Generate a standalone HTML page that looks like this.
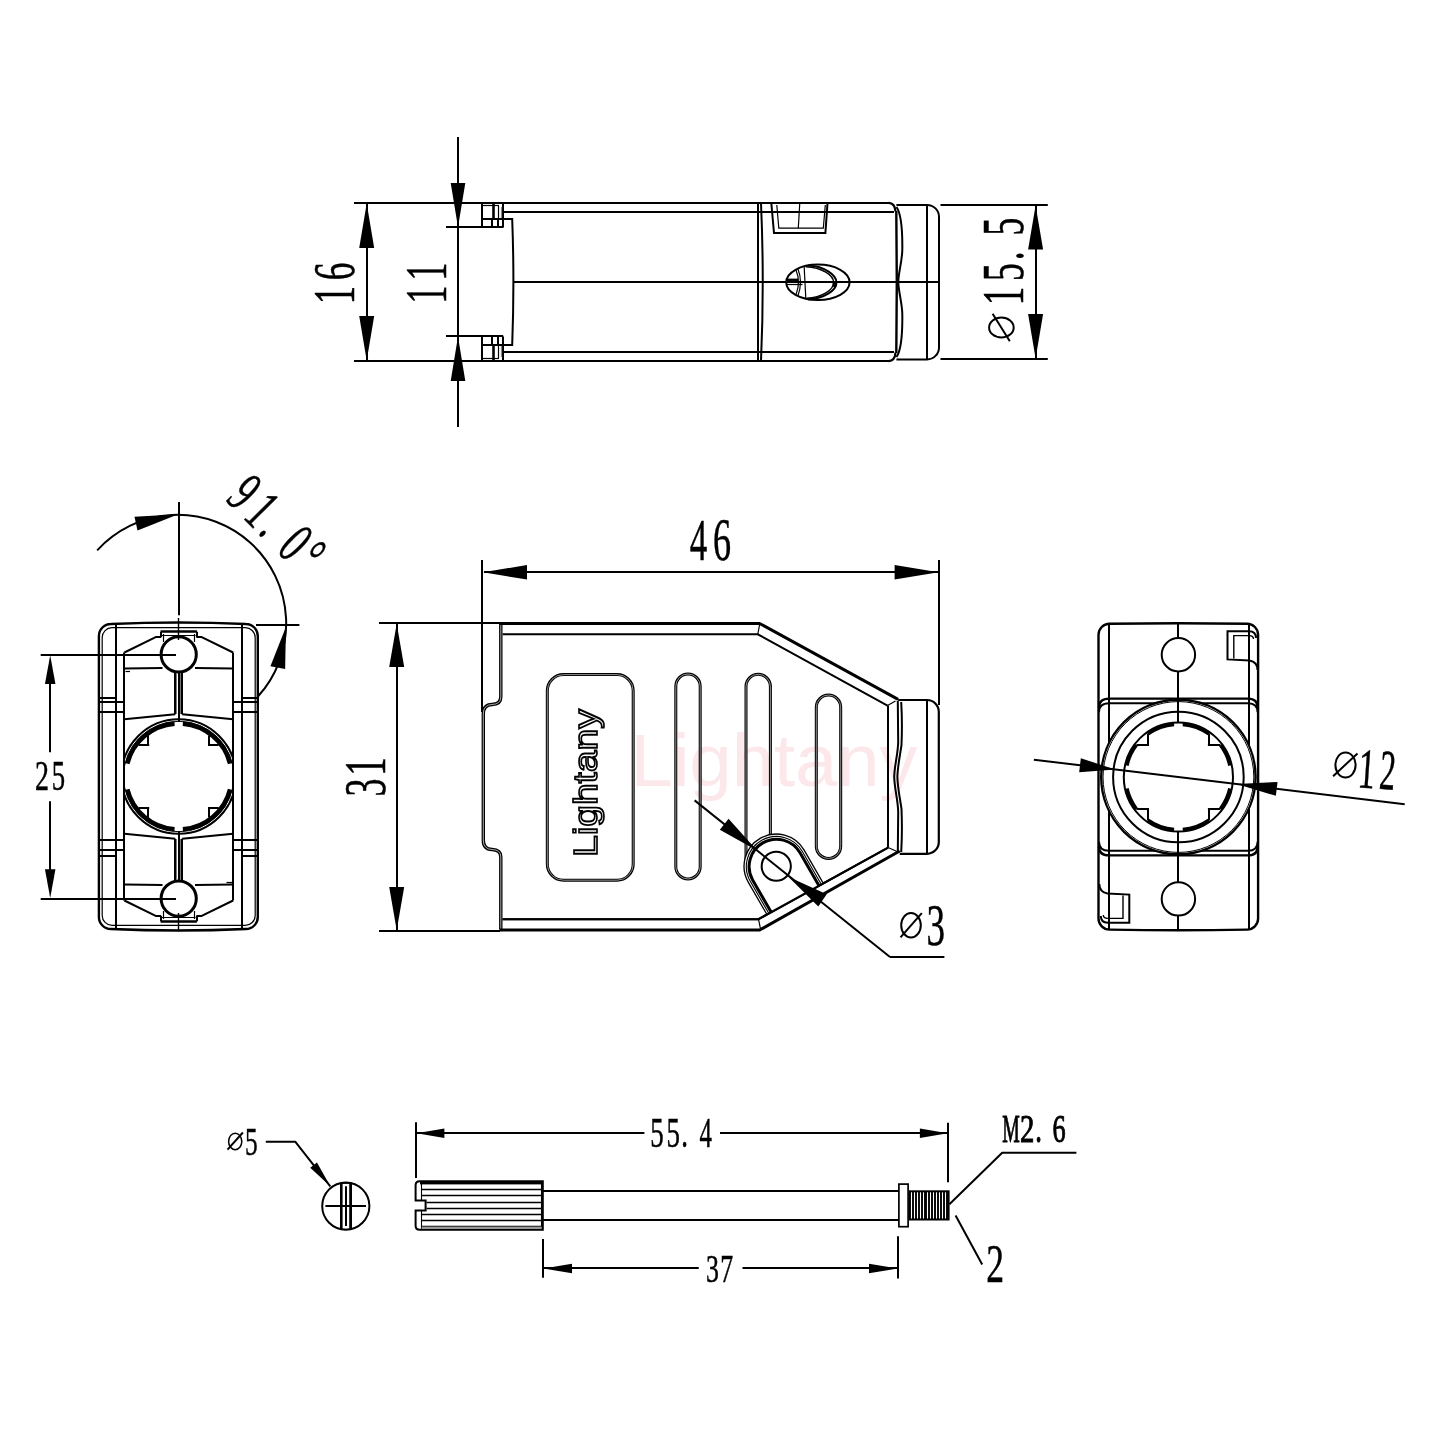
<!DOCTYPE html>
<html><head><meta charset="utf-8"><style>
html,body{margin:0;padding:0;background:#fff;}
svg{display:block;will-change:transform;}
.t{font-family:"Liberation Serif",serif;fill:#000;stroke:#000;stroke-width:0.5px;}
.tb{stroke-width:1.0px;}
.s{font-family:"Liberation Sans",sans-serif;}
</style></head><body>
<svg width="1440" height="1440" viewBox="0 0 1440 1440">
<rect width="1440" height="1440" fill="#fff"/>
<line x1="354" y1="203" x2="889.3" y2="203" stroke="#000" stroke-width="2"/>
<line x1="354" y1="361" x2="889.3" y2="361" stroke="#000" stroke-width="2"/>
<line x1="503.2" y1="212" x2="894" y2="212" stroke="#000" stroke-width="2.0"/>
<line x1="503.2" y1="352" x2="894" y2="352" stroke="#000" stroke-width="2.0"/>
<line x1="367" y1="204" x2="367" y2="360" stroke="#000" stroke-width="2.0"/>
<polygon points="366.7,203.5 374.2,248 359.2,248" fill="#000"/>
<polygon points="366.7,360.5 359.2,316 374.2,316" fill="#000"/>
<line x1="458" y1="137" x2="458" y2="427" stroke="#000" stroke-width="2.0"/>
<polygon points="458,227.2 450.7,183 465.3,183" fill="#000"/>
<polygon points="458,336.5 465.3,381 450.7,381" fill="#000"/>
<line x1="446" y1="227" x2="503.2" y2="227" stroke="#000" stroke-width="2.0"/>
<line x1="446" y1="336" x2="503.2" y2="336" stroke="#000" stroke-width="2.0"/>
<line x1="482" y1="202.5" x2="482" y2="227.5" stroke="#000" stroke-width="2"/>
<line x1="503" y1="202.5" x2="503" y2="227.5" stroke="#000" stroke-width="2"/>
<line x1="483" y1="205.5" x2="499" y2="205.5" stroke="#000" stroke-width="1.2"/>
<line x1="482" y1="219" x2="503" y2="219" stroke="#000" stroke-width="2"/>
<line x1="493.5" y1="203" x2="493.5" y2="219" stroke="#000" stroke-width="2.6"/>
<line x1="498.5" y1="206" x2="498.5" y2="219" stroke="#000" stroke-width="1.2"/>
<line x1="501.5" y1="207" x2="501.5" y2="218" stroke="#888" stroke-width="1.2"/>
<line x1="492" y1="219" x2="492" y2="227" stroke="#000" stroke-width="2.0"/>
<line x1="498" y1="219" x2="498" y2="227" stroke="#000" stroke-width="2.0"/>
<line x1="482" y1="361.5" x2="482" y2="336.5" stroke="#000" stroke-width="2"/>
<line x1="503" y1="361.5" x2="503" y2="336.5" stroke="#000" stroke-width="2"/>
<line x1="483" y1="358.5" x2="499" y2="358.5" stroke="#000" stroke-width="1.2"/>
<line x1="482" y1="345" x2="503" y2="345" stroke="#000" stroke-width="2"/>
<line x1="493.5" y1="361" x2="493.5" y2="345" stroke="#000" stroke-width="2.6"/>
<line x1="498.5" y1="358" x2="498.5" y2="345" stroke="#000" stroke-width="1.2"/>
<line x1="501.5" y1="357" x2="501.5" y2="346" stroke="#888" stroke-width="1.2"/>
<line x1="492" y1="345" x2="492" y2="337" stroke="#000" stroke-width="2.0"/>
<line x1="498" y1="345" x2="498" y2="337" stroke="#000" stroke-width="2.0"/>
<path d="M503,219 L512.2,219 Q514.6,282 512.2,345 L503,345" fill="none" stroke="#000" stroke-width="2.0" />
<line x1="513.6" y1="282" x2="938" y2="282" stroke="#000" stroke-width="2.0"/>
<line x1="758" y1="202.8" x2="758" y2="361.1" stroke="#000" stroke-width="2.0"/>
<path d="M761,203 Q764.5,282 761,361" fill="none" stroke="#000" stroke-width="2.0" />
<path d="M771.3,203 L774,233 L825.4,233 L827.5,203" fill="none" stroke="#000" stroke-width="2.0" />
<path d="M776.8,205 L778.8,228.2 L823.3,228.2 L825.3,205" fill="none" stroke="#000" stroke-width="1.2" />
<line x1="799.7" y1="204" x2="798.3" y2="228.2" stroke="#000" stroke-width="1.2"/>
<ellipse cx="817.9" cy="282.3" rx="31.7" ry="17.7" fill="none" stroke="#000" stroke-width="2"/>
<path d="M804.2,267.1 L805.8,298.3" fill="none" stroke="#000" stroke-width="1.2" />
<path d="M805.8,266.7 C822,267.5 833.5,275 833.75,282.5 C833.5,290 822,297.5 806.7,298.3" fill="none" stroke="#000" stroke-width="1.4" />
<path d="M808,265.6 C825,266.5 836.5,275 836.5,282.5 C836.5,290 825,298.5 808,299.4" fill="none" stroke="#000" stroke-width="2.0" />
<rect x="832.5" y="282.5" width="4" height="4.5" rx="1.5" fill="#000" stroke="#000" stroke-width="0"/>
<path d="M796,270 Q801,282 796,294.5" fill="none" stroke="#000" stroke-width="1.2" />
<path d="M798,269 Q803,282 798,295.5" fill="none" stroke="#000" stroke-width="1.2" />
<rect x="786.7" y="278.6" width="11.5" height="4.4" rx="0" fill="#000" stroke="#000" stroke-width="0"/>
<line x1="786.7" y1="284.5" x2="802.5" y2="284.5" stroke="#000" stroke-width="1.2"/>
<path d="M888.5,202.8 Q895,203 895.5,211.5" fill="none" stroke="#000" stroke-width="2.2" />
<path d="M888.5,361.1 Q895,361 895.5,352.5" fill="none" stroke="#000" stroke-width="2.2" />
<path d="M896.3,211 L896.8,282 L896.3,353" fill="none" stroke="#000" stroke-width="2.4" />
<path d="M896.5,207 C902,215 902.5,235 902.3,250 C902,262 898.5,272 898.3,282 C898.5,292 902,302 902.3,314 C902.5,329 902,349 896.5,357" fill="none" stroke="#000" stroke-width="2.0" />
<path d="M896.4,204.9 L927,204.9 A12,12 0 0 1 939,216.9 L939,347.4 A12,12 0 0 1 927,359.4 L896.4,359.4" fill="none" stroke="#000" stroke-width="2" />
<line x1="927" y1="205" x2="927" y2="359" stroke="#000" stroke-width="2.0"/>
<line x1="940.5" y1="205" x2="1047.8" y2="205" stroke="#000" stroke-width="2.0"/>
<line x1="940.5" y1="359" x2="1047.8" y2="359" stroke="#000" stroke-width="2.0"/>
<line x1="1036" y1="206" x2="1036" y2="358" stroke="#000" stroke-width="2.0"/>
<polygon points="1035.6,205.5 1043.1,249.4 1028.1,249.4" fill="#000"/>
<polygon points="1035.6,358.4 1028.1,314 1043.1,314" fill="#000"/>
<g transform="translate(354.2,301) rotate(-90)">
<text class="t" transform="translate(-3.23,0) scale(0.62,1)" font-size="59.2">1</text>
<text class="t" transform="translate(20.87,0) scale(0.6,1)" font-size="59.2">6</text>
</g>
<g transform="translate(446.1,300.5) rotate(-90)">
<text class="t" transform="translate(-3.22,0) scale(0.62,1)" font-size="59">1</text>
<text class="t" transform="translate(19.68,0) scale(0.62,1)" font-size="59">1</text>
</g>
<g transform="translate(1023.3,301.9) rotate(-90)">
<text class="t" transform="translate(-3.24,0) scale(0.62,1)" font-size="59.5">1</text>
<text class="t" transform="translate(20.83,0) scale(0.6,1)" font-size="59.5">5</text>
<text class="t" transform="translate(41.55,0) scale(0.6,1)" font-size="59.5">.</text>
<text class="t" transform="translate(66.33,0) scale(0.6,1)" font-size="59.5">5</text>
</g>
<ellipse cx="1001.4" cy="327.5" rx="12.3" ry="10" fill="none" stroke="#000" stroke-width="2"/>
<line x1="992.6" y1="313.7" x2="1009.8" y2="341.2" stroke="#000" stroke-width="2"/>
<path d="M110.9,624 Q178.7,621 245.8,624 A12,12 0 0 1 257.8,636 L257.8,917 A12,12 0 0 1 245.8,929 Q178.7,932 110.9,929 A12,12 0 0 1 98.9,917 L98.9,636 A12,12 0 0 1 110.9,624 Z" fill="none" stroke="#000" stroke-width="2.4" />
<path d="M112,627.6 L245,627.6 A10,10 0 0 1 255.2,637.6 L255.2,915.4 A10,10 0 0 1 245,925.4 L112,925.4 A10,10 0 0 1 102.2,915.4 L102.2,637.6 A10,10 0 0 1 112,627.6" fill="none" stroke="#000" stroke-width="1.2" />
<line x1="116" y1="623.5" x2="116" y2="929.5" stroke="#000" stroke-width="2.0"/>
<line x1="242" y1="623.5" x2="242" y2="929.5" stroke="#000" stroke-width="2.0"/>
<line x1="124" y1="652.5" x2="124" y2="900.5" stroke="#000" stroke-width="2.0"/>
<line x1="233" y1="652.5" x2="233" y2="900.5" stroke="#000" stroke-width="2.0"/>
<polyline points="124.4,652.5 156.2,636.9 161,636.9" fill="none" stroke="#000" stroke-width="2.0" stroke-linejoin="round"/>
<polyline points="196.4,636.9 201.2,636.9 233.1,652.5" fill="none" stroke="#000" stroke-width="2.0" stroke-linejoin="round"/>
<line x1="160.6" y1="631.5" x2="196.9" y2="631.5" stroke="#000" stroke-width="2.6"/>
<line x1="161" y1="631.8" x2="161" y2="637.2" stroke="#000" stroke-width="2.0"/>
<line x1="197" y1="631.8" x2="197" y2="637.2" stroke="#000" stroke-width="2.0"/>
<line x1="162" y1="635.5" x2="195.5" y2="635.5" stroke="#000" stroke-width="1.2"/>
<line x1="163.5" y1="634" x2="163.5" y2="642" stroke="#000" stroke-width="1.2"/>
<line x1="194.5" y1="634" x2="194.5" y2="642" stroke="#000" stroke-width="1.2"/>
<circle cx="178.7" cy="654.4" r="17.6" fill="none" stroke="#000" stroke-width="3"/>
<line x1="124.4" y1="668.6" x2="162.5" y2="668.1" stroke="#000" stroke-width="2.0"/>
<line x1="195" y1="668.1" x2="233.1" y2="668.6" stroke="#000" stroke-width="2.0"/>
<line x1="125.5" y1="671.5" x2="130" y2="671.5" stroke="#000" stroke-width="1.2"/>
<line x1="175" y1="672.5" x2="175" y2="714.2" stroke="#000" stroke-width="2.0"/>
<line x1="182" y1="672.5" x2="182" y2="714.2" stroke="#000" stroke-width="2.0"/>
<line x1="176.5" y1="673" x2="176.5" y2="714" stroke="#777" stroke-width="1"/>
<line x1="180.5" y1="673" x2="180.5" y2="714" stroke="#777" stroke-width="1"/>
<line x1="179" y1="672" x2="179" y2="722" stroke="#000" stroke-width="2.0"/>
<line x1="124.4" y1="719.2" x2="175.2" y2="714.2" stroke="#000" stroke-width="2.0"/>
<line x1="182.2" y1="714.2" x2="233.1" y2="719.2" stroke="#000" stroke-width="2.0"/>
<line x1="99.7" y1="698" x2="115.5" y2="698" stroke="#000" stroke-width="2.0"/>
<line x1="99.7" y1="702" x2="124.4" y2="702" stroke="#000" stroke-width="2.0"/>
<line x1="99.7" y1="712" x2="124.4" y2="712" stroke="#000" stroke-width="2.0"/>
<line x1="242" y1="698" x2="257.3" y2="698" stroke="#000" stroke-width="2.0"/>
<line x1="233.1" y1="702" x2="257.3" y2="702" stroke="#000" stroke-width="2.0"/>
<line x1="233.1" y1="712" x2="257.3" y2="712" stroke="#000" stroke-width="2.0"/>
<polyline points="124.4,900.5 156.2,916.1 161,916.1" fill="none" stroke="#000" stroke-width="2.0" stroke-linejoin="round"/>
<polyline points="196.4,916.1 201.2,916.1 233.1,900.5" fill="none" stroke="#000" stroke-width="2.0" stroke-linejoin="round"/>
<line x1="160.6" y1="921.5" x2="196.9" y2="921.5" stroke="#000" stroke-width="2.6"/>
<line x1="161" y1="921.2" x2="161" y2="915.8" stroke="#000" stroke-width="2.0"/>
<line x1="197" y1="921.2" x2="197" y2="915.8" stroke="#000" stroke-width="2.0"/>
<line x1="162" y1="917.5" x2="195.5" y2="917.5" stroke="#000" stroke-width="1.2"/>
<line x1="163.5" y1="919" x2="163.5" y2="911" stroke="#000" stroke-width="1.2"/>
<line x1="194.5" y1="919" x2="194.5" y2="911" stroke="#000" stroke-width="1.2"/>
<circle cx="178.7" cy="898.6" r="17.6" fill="none" stroke="#000" stroke-width="3"/>
<line x1="124.4" y1="884.4" x2="162.5" y2="884.9" stroke="#000" stroke-width="2.0"/>
<line x1="195" y1="884.9" x2="233.1" y2="884.4" stroke="#000" stroke-width="2.0"/>
<line x1="226.5" y1="882.5" x2="232" y2="882.5" stroke="#000" stroke-width="1.2"/>
<line x1="175" y1="880.5" x2="175" y2="838.8" stroke="#000" stroke-width="2.0"/>
<line x1="182" y1="880.5" x2="182" y2="838.8" stroke="#000" stroke-width="2.0"/>
<line x1="176.5" y1="880" x2="176.5" y2="839" stroke="#777" stroke-width="1"/>
<line x1="180.5" y1="880" x2="180.5" y2="839" stroke="#777" stroke-width="1"/>
<line x1="179" y1="881" x2="179" y2="831" stroke="#000" stroke-width="2.0"/>
<line x1="124.4" y1="833.8" x2="175.2" y2="838.8" stroke="#000" stroke-width="2.0"/>
<line x1="182.2" y1="838.8" x2="233.1" y2="833.8" stroke="#000" stroke-width="2.0"/>
<line x1="99.7" y1="856" x2="115.5" y2="856" stroke="#000" stroke-width="2.0"/>
<line x1="99.7" y1="850" x2="124.4" y2="850" stroke="#000" stroke-width="2.0"/>
<line x1="99.7" y1="840" x2="124.4" y2="840" stroke="#000" stroke-width="2.0"/>
<line x1="242" y1="856" x2="257.3" y2="856" stroke="#000" stroke-width="2.0"/>
<line x1="233.1" y1="850" x2="257.3" y2="850" stroke="#000" stroke-width="2.0"/>
<line x1="233.1" y1="840" x2="257.3" y2="840" stroke="#000" stroke-width="2.0"/>
<clipPath id="cl1"><rect x="124.4" y="700" width="108.7" height="160"/></clipPath>
<g clip-path="url(#cl1)">
<circle cx="178.7" cy="776.5" r="57.2" fill="none" stroke="#000" stroke-width="2"/>
<circle cx="178.7" cy="776.5" r="55.2" fill="none" stroke="#000" stroke-width="1"/>
</g>
<path d="M230.13,763.68 A53,53 0 0 0 182.86,723.66" fill="none" stroke="#000" stroke-width="4.6" />
<path d="M174.54,723.66 A53,53 0 0 0 127.27,763.68" fill="none" stroke="#000" stroke-width="4.6" />
<path d="M127.27,789.32 A53,53 0 0 0 174.54,829.34" fill="none" stroke="#000" stroke-width="4.6" />
<path d="M182.86,829.34 A53,53 0 0 0 230.13,789.32" fill="none" stroke="#000" stroke-width="4.6" />
<line x1="209" y1="807.1" x2="209" y2="817.6" stroke="#000" stroke-width="2.0"/>
<line x1="208.2" y1="808" x2="218.7" y2="808" stroke="#000" stroke-width="2.0"/>
<line x1="209" y1="745.9" x2="209" y2="735.4" stroke="#000" stroke-width="2.0"/>
<line x1="208.2" y1="745" x2="218.7" y2="745" stroke="#000" stroke-width="2.0"/>
<line x1="148" y1="807.1" x2="148" y2="817.6" stroke="#000" stroke-width="2.0"/>
<line x1="149.2" y1="808" x2="138.7" y2="808" stroke="#000" stroke-width="2.0"/>
<line x1="148" y1="745.9" x2="148" y2="735.4" stroke="#000" stroke-width="2.0"/>
<line x1="149.2" y1="745" x2="138.7" y2="745" stroke="#000" stroke-width="2.0"/>
<line x1="179" y1="501.9" x2="179" y2="615.3" stroke="#000" stroke-width="2.0"/>
<line x1="178.5" y1="618" x2="178.5" y2="640" stroke="#000" stroke-width="1.4"/>
<line x1="178.5" y1="913" x2="178.5" y2="931" stroke="#000" stroke-width="1.4"/>
<line x1="179" y1="831" x2="179" y2="881" stroke="#000" stroke-width="2.0"/>
<line x1="40.7" y1="655" x2="176" y2="655" stroke="#000" stroke-width="2.0"/>
<line x1="40.7" y1="899" x2="176" y2="899" stroke="#000" stroke-width="2.0"/>
<line x1="50" y1="680" x2="50" y2="752.2" stroke="#000" stroke-width="2.0"/>
<line x1="50" y1="801.2" x2="50" y2="873" stroke="#000" stroke-width="2.0"/>
<polygon points="50.2,655.3 55.45,684 44.95,684" fill="#000"/>
<polygon points="50.2,897.9 44.95,869.2 55.45,869.2" fill="#000"/>
<g transform="translate(0,790.2)">
<text class="t" transform="translate(35.07,0) scale(0.66,1)" font-size="42.4">2</text>
<text class="t" transform="translate(51.75,0) scale(0.63,1)" font-size="42.4">5</text>
</g>
<path d="M97.2,550.3 A108.5,108.5 0 0 1 257.9,696.5" fill="none" stroke="#000" stroke-width="2.0" />
<polygon points="178.4,514.2 137.52,530.43 134.48,516.77" fill="#000"/>
<polygon points="285.9,627 285.16,669.07 270.44,666.13" fill="#000"/>
<line x1="256" y1="625" x2="299.4" y2="625" stroke="#000" stroke-width="2.0"/>
<text x="630.5" y="785.7" font-family="Liberation Sans, sans-serif" font-size="73.7" fill="#fce8ea" textLength="287" lengthAdjust="spacingAndGlyphs">Lightany</text>
<line x1="482" y1="560" x2="482" y2="712" stroke="#000" stroke-width="2.0"/>
<line x1="939" y1="560" x2="939" y2="705" stroke="#000" stroke-width="2.0"/>
<line x1="484" y1="572" x2="938" y2="572" stroke="#000" stroke-width="2.0"/>
<polygon points="483,572.3 527,565 527,579.6" fill="#000"/>
<polygon points="938.6,572.3 894.6,579.6 894.6,565" fill="#000"/>
<g transform="translate(0,560.4)">
<text class="t" transform="translate(689.72,0) scale(0.58,1)" font-size="60.2">4</text>
<text class="t" transform="translate(713.05,0) scale(0.6,1)" font-size="60.2">6</text>
</g>
<line x1="379" y1="623" x2="500" y2="623" stroke="#000" stroke-width="2.0"/>
<line x1="379" y1="931" x2="500" y2="931" stroke="#000" stroke-width="2.0"/>
<line x1="397" y1="624" x2="397" y2="930" stroke="#000" stroke-width="2.0"/>
<polygon points="396.7,623.8 404.2,667 389.2,667" fill="#000"/>
<polygon points="396.7,930.3 389.2,887 404.2,887" fill="#000"/>
<g transform="translate(384.7,794.7) rotate(-90)">
<text class="t" transform="translate(-1.72,0) scale(0.6,1)" font-size="60">3</text>
<text class="t" transform="translate(19.03,0) scale(0.62,1)" font-size="60">1</text>
</g>
<path d="M500.8,624 L500.8,697 Q500.8,704.3 492,704.5 Q483.3,704.7 483.3,714 L483.3,840 Q483.3,849.3 492,849.5 Q500.8,849.7 500.8,857 L500.8,929.5" fill="none" stroke="#000" stroke-width="3.4" stroke-linejoin="round"/>
<path d="M500.8,624 L500.8,697 Q500.8,704.3 492,704.5 Q483.3,704.7 483.3,714 L483.3,840 Q483.3,849.3 492,849.5 Q500.8,849.7 500.8,857 L500.8,929.5" fill="none" stroke="#aaa" stroke-width="1.0" />
<path d="M898.1,699.4 L759.6,623.5 L499.5,623.5" fill="none" stroke="#000" stroke-width="3.0" stroke-linejoin="round"/>
<path d="M499.5,930 L759.7,930 L899.7,851" fill="none" stroke="#000" stroke-width="3.0" stroke-linejoin="round"/>
<path d="M502.6,634.3 L757.8,634.3 L887.5,705.6" fill="none" stroke="#000" stroke-width="2.0" />
<path d="M502.6,919.2 L758.5,919.2 L888.1,847.5" fill="none" stroke="#000" stroke-width="2.0" />
<line x1="757.8" y1="634.3" x2="759.6" y2="624.5" stroke="#000" stroke-width="1.2"/>
<line x1="758.5" y1="919.2" x2="760.5" y2="929" stroke="#000" stroke-width="1.2"/>
<line x1="888" y1="705.6" x2="888" y2="847.5" stroke="#000" stroke-width="2.0"/>
<line x1="887.5" y1="705.6" x2="895.5" y2="701" stroke="#000" stroke-width="1.2"/>
<line x1="888.1" y1="847.5" x2="897" y2="851.5" stroke="#000" stroke-width="1.2"/>
<path d="M898.1,700 L927,700 A11.8,11.8 0 0 1 938.8,711.8 L938.8,842 A11.8,11.8 0 0 1 927,853.8 L899.7,853.8" fill="none" stroke="#000" stroke-width="2.2" />
<line x1="927" y1="700.5" x2="927" y2="853.3" stroke="#000" stroke-width="2.0"/>
<path d="M897.8,701 L898.2,742 C898,754 894.5,765 894.2,777 C894.5,789 898,800 898.2,812 L897.8,853" fill="none" stroke="#000" stroke-width="2.0" />
<path d="M901.2,702 C902,715 902,733 901.5,745 C900,756 897.6,766 897.4,777 C897.6,788 900,798 901.5,809 C902,821 902,839 901.2,852" fill="none" stroke="#000" stroke-width="2.0" />
<path d="M563.5,674.6 L617,674.6 A16.2,16.2 0 0 1 633.2,690.8 L633.2,864 A16.2,16.2 0 0 1 617,880.2 L563.5,880.2 A16.2,16.2 0 0 1 547.3,864 L547.3,690.8 A16.2,16.2 0 0 1 563.5,674.6 Z" fill="none" stroke="#000" stroke-width="3.0" stroke-linejoin="round"/>
<path d="M563.5,674.6 L617,674.6 A16.2,16.2 0 0 1 633.2,690.8 L633.2,864 A16.2,16.2 0 0 1 617,880.2 L563.5,880.2 A16.2,16.2 0 0 1 547.3,864 L547.3,690.8 A16.2,16.2 0 0 1 563.5,674.6 Z" fill="none" stroke="#a0a0a0" stroke-width="0.9" />
<text transform="translate(597.2,857.1) rotate(-90) scale(1.15,1)" font-family="Liberation Sans, sans-serif" font-size="34" fill="#fff" stroke="#000" stroke-width="1.7">Lightany</text>
<path d="M675.8,686.2 A12.2,12.2 0 0 1 700.2,686.2 L700.2,866.8 A12.2,12.2 0 0 1 675.8,866.8 Z" fill="none" stroke="#000" stroke-width="3.0" stroke-linejoin="round"/>
<path d="M675.8,686.2 A12.2,12.2 0 0 1 700.2,686.2 L700.2,866.8 A12.2,12.2 0 0 1 675.8,866.8 Z" fill="none" stroke="#a0a0a0" stroke-width="0.9" />
<path d="M746,686.5 A12.2,12.2 0 0 1 770.4,686.5 L770.4,867.8 A12.2,12.2 0 0 1 746,867.8 Z" fill="none" stroke="#000" stroke-width="3.0" stroke-linejoin="round"/>
<path d="M746,686.5 A12.2,12.2 0 0 1 770.4,686.5 L770.4,867.8 A12.2,12.2 0 0 1 746,867.8 Z" fill="none" stroke="#a0a0a0" stroke-width="0.9" />
<path d="M816.3,707.2 A12.2,12.2 0 0 1 840.7,707.2 L840.7,846.3 A12.2,12.2 0 0 1 816.3,846.3 Z" fill="none" stroke="#000" stroke-width="3.0" stroke-linejoin="round"/>
<path d="M816.3,707.2 A12.2,12.2 0 0 1 840.7,707.2 L840.7,846.3 A12.2,12.2 0 0 1 816.3,846.3 Z" fill="none" stroke="#a0a0a0" stroke-width="0.9" />
<path d="M823.3,883.35 L804.14,850.15 A32.2,32.2 0 0 0 748.36,882.35 L766.94,914.53 Z" fill="#fff" stroke="none"/>
<path d="M502.6,919.2 L758.5,919.2 L888.1,847.5" fill="none" stroke="#000" stroke-width="2.0" />
<path d="M823.3,883.35 L804.14,850.15 A32.2,32.2 0 0 0 748.36,882.35 L766.94,914.53" fill="none" stroke="#000" stroke-width="1.3" />
<path d="M821.38,884.41 L802.23,851.25 A30,30 0 0 0 750.27,881.25 L768.87,913.46" fill="none" stroke="#000" stroke-width="1.1" />
<path d="M819.01,885.72 L799.89,852.6 A27.3,27.3 0 0 0 752.61,879.9 L771.23,912.16" fill="none" stroke="#000" stroke-width="3.0" />
<circle cx="776.25" cy="866.25" r="14.6" fill="none" stroke="#000" stroke-width="2"/>
<line x1="694.6" y1="800.4" x2="890" y2="957" stroke="#000" stroke-width="2.0"/>
<line x1="890" y1="957" x2="944.4" y2="957" stroke="#000" stroke-width="2.0"/>
<polygon points="757,850.5 719.82,829.66 728.58,818.74" fill="#000"/>
<polygon points="788.3,876.7 826.69,894.36 818.31,906.44" fill="#000"/>
<g transform="translate(0,945.2)">
<text class="t" transform="translate(926.42,0) scale(0.62,1)" font-size="60">3</text>
</g>
<ellipse cx="911" cy="925.3" rx="9.8" ry="12.3" fill="none" stroke="#000" stroke-width="2"/>
<line x1="900.5" y1="937.3" x2="921.8" y2="913.2" stroke="#000" stroke-width="2"/>
<path d="M1109.5,623.8 Q1178.4,622.6 1247.1,623.8 A11,11 0 0 1 1258.1,634.8 L1258.1,918.6 A11,11 0 0 1 1247.1,929.6 Q1178.4,930.8 1109.5,929.6 A11,11 0 0 1 1098.5,918.6 L1098.5,634.8 A11,11 0 0 1 1109.5,623.8 Z" fill="none" stroke="#000" stroke-width="2.4" />
<line x1="1109" y1="624.5" x2="1109" y2="929" stroke="#000" stroke-width="2.0"/>
<line x1="1249" y1="624.5" x2="1249" y2="929" stroke="#000" stroke-width="2.0"/>
<line x1="1178" y1="623.5" x2="1178" y2="930" stroke="#000" stroke-width="2.0"/>
<circle cx="1178.4" cy="654.75" r="16.7" fill="#fff" stroke="#000" stroke-width="2"/>
<circle cx="1178.4" cy="898.9" r="16.7" fill="#fff" stroke="#000" stroke-width="2"/>
<path d="M1256,638 Q1256,631.3 1249,631.3 L1227.5,631.3 L1227.5,659.4 L1249.4,660.6 Q1257.5,662 1257.5,670" fill="none" stroke="#000" stroke-width="2" />
<path d="M1253.5,639 Q1253.5,635.6 1249,635.6 L1233.8,635.6 L1233.8,658.5" fill="none" stroke="#000" stroke-width="1.4" />
<path d="M 1100.8,916 Q 1100.8,922.7 1107.8,922.7 L 1129.3,922.7 L 1129.3,894.6 L 1107.4,893.4 Q 1099.3,892 1099.3,884" fill="none" stroke="#000" stroke-width="2" />
<path d="M 1103.3,915 Q 1103.3,918.4 1107.8,918.4 L 1123,918.4 L 1123,895.5" fill="none" stroke="#000" stroke-width="1.4" />
<path d="M1099,707.6 Q1099,698.6 1109,698.6 L1248,698.6 Q1257.6,698.6 1257.6,707.6" fill="none" stroke="#000" stroke-width="2.4" />
<path d="M1099,846.4 Q1099,855.4 1109,855.4 L1248,855.4 Q1257.6,855.4 1257.6,846.4" fill="none" stroke="#000" stroke-width="2.4" />
<path d="M1099,712.3 Q1099,703.3 1109,703.3 L1248,703.3 Q1257.6,703.3 1257.6,712.3" fill="none" stroke="#000" stroke-width="2.0" />
<path d="M1099,841.7 Q1099,850.7 1109,850.7 L1248,850.7 Q1257.6,850.7 1257.6,841.7" fill="none" stroke="#000" stroke-width="2.0" />
<circle cx="1178.4" cy="777" r="77.2" fill="#fff" stroke="#000" stroke-width="2.4"/>
<circle cx="1178.4" cy="777" r="75.4" fill="none" stroke="#000" stroke-width="1"/>
<circle cx="1178.4" cy="777" r="65.3" fill="none" stroke="#000" stroke-width="2.0"/>
<circle cx="1178.4" cy="777" r="54.6" fill="none" stroke="#000" stroke-width="2.0"/>
<line x1="1178" y1="700" x2="1178" y2="723" stroke="#000" stroke-width="2.0"/>
<line x1="1178" y1="831" x2="1178" y2="854" stroke="#000" stroke-width="2.0"/>
<path d="M1230.12,765.44 A53,53 0 0 0 1220.56,744.88" fill="none" stroke="#000" stroke-width="4.0" />
<path d="M1208.88,733.64 A53,53 0 0 0 1182.74,724.18" fill="none" stroke="#000" stroke-width="4.0" />
<path d="M1174.06,724.18 A53,53 0 0 0 1147.92,733.64" fill="none" stroke="#000" stroke-width="4.0" />
<path d="M1136.24,744.88 A53,53 0 0 0 1126.68,765.44" fill="none" stroke="#000" stroke-width="4.0" />
<path d="M1126.68,788.56 A53,53 0 0 0 1136.24,809.12" fill="none" stroke="#000" stroke-width="4.0" />
<path d="M1147.92,820.36 A53,53 0 0 0 1174.06,829.82" fill="none" stroke="#000" stroke-width="4.0" />
<path d="M1182.74,829.82 A53,53 0 0 0 1208.88,820.36" fill="none" stroke="#000" stroke-width="4.0" />
<path d="M1220.56,809.12 A53,53 0 0 0 1230.12,788.56" fill="none" stroke="#000" stroke-width="4.0" />
<line x1="1209" y1="808.1" x2="1209" y2="820.6" stroke="#000" stroke-width="2.0"/>
<line x1="1207.9" y1="809" x2="1220.4" y2="809" stroke="#000" stroke-width="2.0"/>
<line x1="1209" y1="745.9" x2="1209" y2="733.4" stroke="#000" stroke-width="2.0"/>
<line x1="1207.9" y1="745" x2="1220.4" y2="745" stroke="#000" stroke-width="2.0"/>
<line x1="1148" y1="808.1" x2="1148" y2="820.6" stroke="#000" stroke-width="2.0"/>
<line x1="1148.9" y1="809" x2="1136.4" y2="809" stroke="#000" stroke-width="2.0"/>
<line x1="1148" y1="745.9" x2="1148" y2="733.4" stroke="#000" stroke-width="2.0"/>
<line x1="1148.9" y1="745" x2="1136.4" y2="745" stroke="#000" stroke-width="2.0"/>
<line x1="1033.9" y1="759.7" x2="1404.7" y2="804.2" stroke="#000" stroke-width="2.0"/>
<polygon points="1115,769.4 1079.17,772.15 1080.83,758.25" fill="#000"/>
<polygon points="1236.7,784.04 1277.53,781.89 1275.87,795.79" fill="#000"/>
<g transform="translate(1360,787.5) rotate(4)">
<text class="t" transform="translate(-3.01,0) scale(0.6,1)" font-size="57">1</text>
<text class="t" transform="translate(18.6,0) scale(0.56,1)" font-size="57">2</text>
</g>
<ellipse cx="1345.5" cy="765" rx="10.1" ry="12.4" fill="none" stroke="#000" stroke-width="2"/>
<line x1="1333.1" y1="776.25" x2="1357.5" y2="753.4" stroke="#000" stroke-width="2"/>
<circle cx="345.8" cy="1206.1" r="23.6" fill="none" stroke="#000" stroke-width="2.0"/>
<line x1="325.4" y1="1206" x2="366" y2="1206" stroke="#000" stroke-width="2.0"/>
<line x1="341" y1="1182.5" x2="341" y2="1229.7" stroke="#000" stroke-width="2.0"/>
<line x1="351" y1="1182.5" x2="351" y2="1229.7" stroke="#000" stroke-width="2.0"/>
<rect x="342.2" y="1183.6" width="7.4" height="45.6" rx="0" fill="none" stroke="#000" stroke-width="0.8"/>
<line x1="346" y1="1186.3" x2="346" y2="1226" stroke="#000" stroke-width="2"/>
<polyline points="265.8,1141.8 295.4,1141.8 330.3,1186.3" fill="none" stroke="#000" stroke-width="2.0" stroke-linejoin="round"/>
<polygon points="330.3,1186.3 310.22,1167.76 316.98,1162.44" fill="#000"/>
<g transform="translate(0,1155)">
<text class="t" transform="translate(245.02,0) scale(0.63,1)" font-size="40.3">5</text>
</g>
<ellipse cx="235.2" cy="1141.45" rx="6.6" ry="8.2" fill="none" stroke="#000" stroke-width="1.5"/>
<line x1="227.5" y1="1149.6" x2="242.9" y2="1132.5" stroke="#000" stroke-width="2.0"/>
<path d="M419.6,1181.2 L542.8,1181.2 L542.8,1229.8 L419.6,1229.8 Q415.6,1229.8 415.6,1225.8 L415.6,1210.6 L425.6,1210.6 L425.6,1200.6 L415.6,1200.6 L415.6,1185.2 Q415.6,1181.2 419.6,1181.2 Z" fill="none" stroke="#000" stroke-width="2" />
<rect x="420" y="1181.2" width="122.8" height="3.2" rx="0" fill="#000" stroke="#000" stroke-width="0"/>
<line x1="421.7" y1="1189.5" x2="541.7" y2="1189.5" stroke="#000" stroke-width="1.3"/>
<line x1="421.7" y1="1195.5" x2="541.7" y2="1195.5" stroke="#000" stroke-width="1.3"/>
<line x1="426.5" y1="1202.5" x2="541.7" y2="1202.5" stroke="#000" stroke-width="1.3"/>
<line x1="426.5" y1="1208.5" x2="541.7" y2="1208.5" stroke="#000" stroke-width="1.3"/>
<line x1="421.7" y1="1214.5" x2="541.7" y2="1214.5" stroke="#000" stroke-width="1.3"/>
<line x1="421.7" y1="1220.5" x2="541.7" y2="1220.5" stroke="#000" stroke-width="1.3"/>
<line x1="421.7" y1="1226.5" x2="541.7" y2="1226.5" stroke="#000" stroke-width="1.3"/>
<line x1="421.5" y1="1184" x2="421.5" y2="1200.6" stroke="#000" stroke-width="1.1"/>
<line x1="421.5" y1="1210.6" x2="421.5" y2="1229" stroke="#000" stroke-width="1.1"/>
<line x1="541.5" y1="1183" x2="541.5" y2="1229" stroke="#000" stroke-width="1.1"/>
<rect x="421.7" y="1226.6" width="120" height="2.4" rx="0" fill="#999" stroke="#000" stroke-width="0"/>
<line x1="542.8" y1="1191" x2="898.9" y2="1191" stroke="#000" stroke-width="2.0"/>
<line x1="542.8" y1="1220" x2="898.9" y2="1220" stroke="#000" stroke-width="2.0"/>
<rect x="898.9" y="1184.1" width="9.2" height="42.6" rx="0" fill="none" stroke="#000" stroke-width="1.7"/>
<rect x="909" y="1190.3" width="40.6" height="30.2" rx="0" fill="#000" stroke="#000" stroke-width="0"/>
<line x1="911.5" y1="1192.3" x2="911.5" y2="1218.5" stroke="#fff" stroke-width="1.1"/>
<line x1="914.5" y1="1192.3" x2="914.5" y2="1218.5" stroke="#fff" stroke-width="1.1"/>
<line x1="917.5" y1="1192.3" x2="917.5" y2="1218.5" stroke="#fff" stroke-width="1.1"/>
<line x1="920.5" y1="1192.3" x2="920.5" y2="1218.5" stroke="#fff" stroke-width="1.1"/>
<line x1="923.5" y1="1192.3" x2="923.5" y2="1218.5" stroke="#fff" stroke-width="1.1"/>
<line x1="927.5" y1="1192.3" x2="927.5" y2="1218.5" stroke="#fff" stroke-width="1.1"/>
<line x1="930.5" y1="1192.3" x2="930.5" y2="1218.5" stroke="#fff" stroke-width="1.1"/>
<line x1="933.5" y1="1192.3" x2="933.5" y2="1218.5" stroke="#fff" stroke-width="1.1"/>
<line x1="936.5" y1="1192.3" x2="936.5" y2="1218.5" stroke="#fff" stroke-width="1.1"/>
<line x1="939.5" y1="1192.3" x2="939.5" y2="1218.5" stroke="#fff" stroke-width="1.1"/>
<line x1="942.5" y1="1192.3" x2="942.5" y2="1218.5" stroke="#fff" stroke-width="1.1"/>
<line x1="945.5" y1="1192.3" x2="945.5" y2="1218.5" stroke="#fff" stroke-width="1.1"/>
<line x1="416" y1="1122.2" x2="416" y2="1178" stroke="#000" stroke-width="2.0"/>
<line x1="948" y1="1122.8" x2="948" y2="1182.3" stroke="#000" stroke-width="2.0"/>
<line x1="417" y1="1133" x2="644.4" y2="1133" stroke="#000" stroke-width="2.0"/>
<line x1="720" y1="1133" x2="947.5" y2="1133" stroke="#000" stroke-width="2.0"/>
<polygon points="416.6,1133.3 444.4,1128.5 444.4,1138.1" fill="#000"/>
<polygon points="947.8,1133.3 919.9,1138.1 919.9,1128.5" fill="#000"/>
<g transform="translate(0,1146.5)">
<text class="t" transform="translate(650.34,0) scale(0.65,1)" font-size="41.4">5</text>
<text class="t" transform="translate(666.54,0) scale(0.65,1)" font-size="41.4">5</text>
<text class="t" transform="translate(681.33,0) scale(0.65,1)" font-size="41.4">.</text>
<text class="t" transform="translate(699.51,0) scale(0.6,1)" font-size="41.4">4</text>
</g>
<line x1="543" y1="1238.9" x2="543" y2="1277.8" stroke="#000" stroke-width="2.0"/>
<line x1="898" y1="1236.2" x2="898" y2="1278.5" stroke="#000" stroke-width="2.0"/>
<line x1="543.5" y1="1268" x2="698.75" y2="1268" stroke="#000" stroke-width="2.0"/>
<line x1="742.5" y1="1268" x2="897.8" y2="1268" stroke="#000" stroke-width="2.0"/>
<polygon points="543.5,1268.5 572,1263.7 572,1273.3" fill="#000"/>
<polygon points="897.8,1268.5 869,1273.3 869,1263.7" fill="#000"/>
<g transform="translate(0,1282)">
<text class="t" transform="translate(706.01,0) scale(0.63,1)" font-size="41">3</text>
<text class="t" transform="translate(720.2,0) scale(0.63,1)" font-size="41">7</text>
</g>
<polyline points="949.4,1204.2 1002.2,1152.8 1076.4,1152.8" fill="none" stroke="#000" stroke-width="2.0" stroke-linejoin="round"/>
<g transform="translate(0,1142.2)">
<text class="t tb" transform="translate(1002.23,0) scale(0.48,1)" font-size="41.1">M</text>
<text class="t tb" transform="translate(1019.99,0) scale(0.7,1)" font-size="41.1">2</text>
<text class="t tb" transform="translate(1035.14,0) scale(0.65,1)" font-size="41.1">.</text>
<text class="t tb" transform="translate(1052.62,0) scale(0.64,1)" font-size="41.1">6</text>
</g>
<line x1="955.6" y1="1215.6" x2="982.2" y2="1264.4" stroke="#000" stroke-width="2.0"/>
<g transform="translate(0,1281.6)">
<text class="t" transform="translate(986.23,0) scale(0.65,1)" font-size="54.8">2</text>
</g>
<g transform="rotate(45) translate(0,194.5)">
<text class="t" transform="translate(511.85,0) scale(0.6,1)" font-size="59.5">9</text>
<text class="t" transform="translate(536.86,0) scale(0.6,1)" font-size="59.5">1</text>
<text class="t" transform="translate(558.65,0) scale(0.6,1)" font-size="59.5">.</text>
<text class="t" transform="translate(584.14,0) scale(0.6,1)" font-size="59.5">0</text>
<text class="t" transform="translate(606.39,0) scale(0.6,1)" font-size="59.5">°</text>
</g>
</svg>
</body></html>
